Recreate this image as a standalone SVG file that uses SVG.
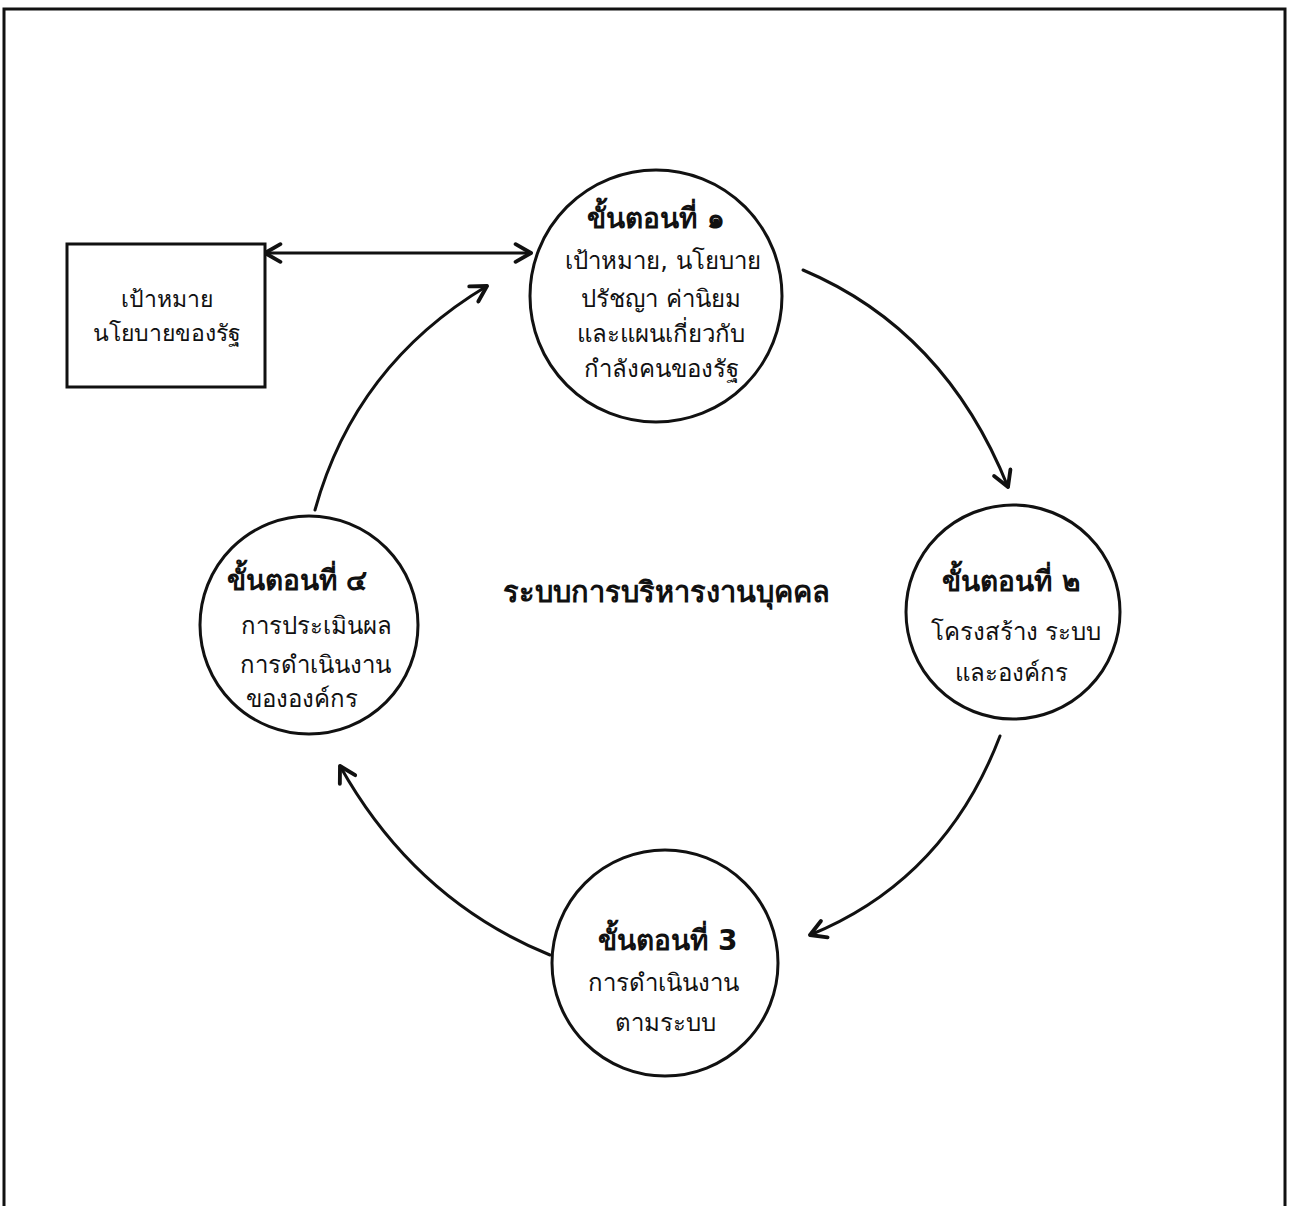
<svg xmlns="http://www.w3.org/2000/svg" width="1291" height="1206" viewBox="0 0 1291 1206">
<defs>
<style>
.ln{fill:none;stroke:#111;stroke-width:3;stroke-linecap:round}
.nd{fill:#fff;stroke:#111;stroke-width:3}
text{font-family:"DejaVu Sans","Liberation Sans",sans-serif;fill:#111;text-anchor:middle}
.h{font-size:28px;font-weight:bold}
.b{font-size:24px}
.r{font-size:23px}
.t{font-size:29px;font-weight:bold}
</style>
<marker id="ah" viewBox="0 0 20 20" refX="18" refY="10" markerWidth="22" markerHeight="22" markerUnits="userSpaceOnUse" orient="auto-start-reverse">
<path d="M4,2 L18,10 L4,18" fill="none" stroke="#111" stroke-width="3.5" stroke-linecap="round" stroke-linejoin="round"/>
</marker>
</defs>
<rect width="1291" height="1206" fill="#fff"/>
<rect x="4" y="9" width="1281" height="1210" fill="none" stroke="#111" stroke-width="3"/>
<g id="connectors">
<path class="ln" d="M265,253 L531,253" marker-start="url(#ah)" marker-end="url(#ah)"/>
<path class="ln" d="M803,270 Q945,330 1008,487" marker-end="url(#ah)"/>
<path class="ln" d="M1000,736 Q945,880 810,935" marker-end="url(#ah)"/>
<path class="ln" d="M550,955 Q415,900 340,766" marker-end="url(#ah)"/>
<path class="ln" d="M315,510 Q355,365 487,286" marker-end="url(#ah)"/>
</g>
<g id="goal-box">
<rect class="nd" x="67" y="244" width="198" height="143"/>
<text class="r" x="167" y="307">เป้าหมาย</text>
<text class="r" x="167" y="341">นโยบายของรัฐ</text>
</g>
<g id="step1">
<circle class="nd" cx="656" cy="296" r="126"/>
<text class="h" x="656" y="228">ขั้นตอนที่ ๑</text>
<text class="b" x="663" y="269">เป้าหมาย, นโยบาย</text>
<text class="b" x="661" y="307">ปรัชญา ค่านิยม</text>
<text class="b" x="661" y="342">และแผนเกี่ยวกับ</text>
<text class="b" x="661" y="377">กำลังคนของรัฐ</text>
</g>
<g id="step2">
<circle class="nd" cx="1013" cy="612" r="107"/>
<text class="h" x="1011" y="591">ขั้นตอนที่ ๒</text>
<text class="b" x="1016" y="640">โครงสร้าง ระบบ</text>
<text class="b" x="1011" y="681">และองค์กร</text>
</g>
<g id="step3">
<circle class="nd" cx="665" cy="963" r="113"/>
<text class="h" x="668" y="950">ขั้นตอนที่ 3</text>
<text class="b" x="663" y="991">การดำเนินงาน</text>
<text class="b" x="665" y="1031">ตามระบบ</text>
</g>
<g id="step4">
<circle class="nd" cx="309" cy="625" r="109"/>
<text class="h" x="297" y="590">ขั้นตอนที่ ๔</text>
<text class="b" x="316" y="634">การประเมินผล</text>
<text class="b" x="315" y="673">การดำเนินงาน</text>
<text class="b" x="302" y="707">ขององค์กร</text>
</g>
<g id="title">
<text class="t" x="666" y="602">ระบบการบริหารงานบุคคล</text>
</g>
</svg>
